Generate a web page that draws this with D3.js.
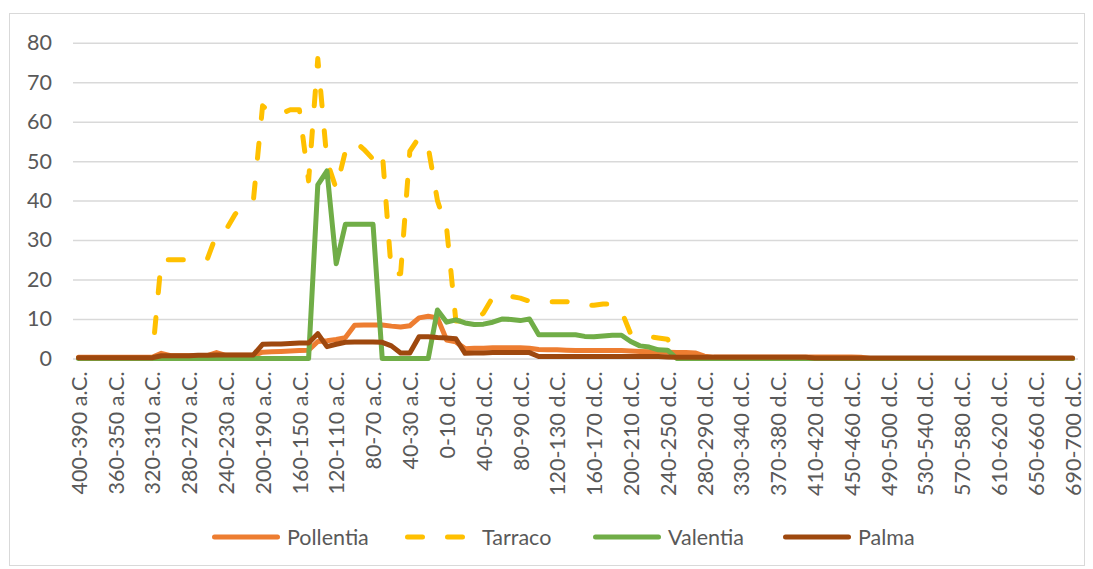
<!DOCTYPE html>
<html>
<head>
<meta charset="utf-8">
<script src="https://cdn.jsdelivr.net/npm/d3@7"></script>
<style>
    body { margin: 0; background: #fff; }
    text { font-family: Lato, "Open Sans", sans-serif; }
</style>
</head>
<body>
<div id="chart"></div>
<script>
// categories (one interval is missing in the source between 280-290 and 330-340 d.C.)
var categories = [
    "400-390 a.C.", "390-380 a.C.", "380-370 a.C.", "370-360 a.C.", "360-350 a.C.", "350-340 a.C.", "340-330 a.C.", "330-320 a.C.", "320-310 a.C.", "310-300 a.C.",
    "300-290 a.C.", "290-280 a.C.", "280-270 a.C.", "270-260 a.C.", "260-250 a.C.", "250-240 a.C.", "240-230 a.C.", "230-220 a.C.", "220-210 a.C.", "210-200 a.C.",
    "200-190 a.C.", "190-180 a.C.", "180-170 a.C.", "170-160 a.C.", "160-150 a.C.", "150-140 a.C.", "140-130 a.C.", "130-120 a.C.", "120-110 a.C.", "110-100 a.C.",
    "100-90 a.C.", "90-80 a.C.", "80-70 a.C.", "70-60 a.C.", "60-50 a.C.", "50-40 a.C.", "40-30 a.C.", "30-20 a.C.", "20-10 a.C.", "10-0 a.C.",
    "0-10 d.C.", "10-20 d.C.", "20-30 d.C.", "30-40 d.C.", "40-50 d.C.", "50-60 d.C.", "60-70 d.C.", "70-80 d.C.", "80-90 d.C.", "90-100 d.C.",
    "100-110 d.C.", "110-120 d.C.", "120-130 d.C.", "130-140 d.C.", "140-150 d.C.", "150-160 d.C.", "160-170 d.C.", "170-180 d.C.", "180-190 d.C.", "190-200 d.C.",
    "200-210 d.C.", "210-220 d.C.", "220-230 d.C.", "230-240 d.C.", "240-250 d.C.", "250-260 d.C.", "260-270 d.C.", "270-280 d.C.", "280-290 d.C.", "300-310 d.C.",
    "310-320 d.C.", "320-330 d.C.", "330-340 d.C.", "340-350 d.C.", "350-360 d.C.", "360-370 d.C.", "370-380 d.C.", "380-390 d.C.", "390-400 d.C.", "400-410 d.C.",
    "410-420 d.C.", "420-430 d.C.", "430-440 d.C.", "440-450 d.C.", "450-460 d.C.", "460-470 d.C.", "470-480 d.C.", "480-490 d.C.", "490-500 d.C.", "500-510 d.C.",
    "510-520 d.C.", "520-530 d.C.", "530-540 d.C.", "540-550 d.C.", "550-560 d.C.", "560-570 d.C.", "570-580 d.C.", "580-590 d.C.", "590-600 d.C.", "600-610 d.C.",
    "610-620 d.C.", "620-630 d.C.", "630-640 d.C.", "640-650 d.C.", "650-660 d.C.", "660-670 d.C.", "670-680 d.C.", "680-690 d.C.", "690-700 d.C."
];

var pollentia = [
    0.3, 0.3, 0.3, 0.3, 0.3, 0.3, 0.3, 0.3, 0.3, 1.3,
    0.7, 0.7, 0.7, 0.7, 0.7, 1.5, 0.8, 0.8, 0.8, 0.8,
    1.6, 1.7, 1.8, 1.9, 2.0, 2.1, 4.3, 4.5, 4.8, 5.3,
    8.4, 8.5, 8.5, 8.5, 8.2, 8.0, 8.3, 10.3, 10.7, 10.3,
    4.7, 4.2, 2.5, 2.6, 2.6, 2.7, 2.7, 2.7, 2.7, 2.6,
    2.3, 2.2, 2.2, 2.1, 2.0, 2.0, 2.0, 2.0, 2.0, 2.0,
    1.9, 1.8, 1.7, 1.7, 1.6, 1.5, 1.5, 1.4, 0.6, 0.35,
    0.35, 0.35, 0.35, 0.35, 0.35, 0.35, 0.35, 0.35, 0.35, 0.35,
    0.35, 0.35, 0.35, 0.35, 0.35, 0.3, 0, 0, 0, 0,
    0, 0, 0, 0, 0, 0, 0, 0, 0, 0,
    0, 0, 0, 0, 0, 0, 0, 0, 0
];

var tarraco = [
    0, 0, 0, 0, 0, 0, 0, 0, 0, 25,
    25, 25, 25, 25, 25.2, 31.5, 32.5, 36.5, 39, 40,
    64, 62, 62, 63, 63, 45, 76, 50, 43, 52.5,
    55, 53, 50.5, 52.5, 21.5, 21.5, 52.5, 56, 53.5, 40,
    33, 9.5, 9.5, 9.5, 11.5, 15.5, 16, 15.7, 15.3, 14.5,
    14.4, 14.4, 14.4, 14.4, 14, 13.4, 13.5, 13.8, 13.8, 12,
    6.2, 5.7, 5.5, 5.2, 4.9, 0, 0, 0, 0, 0,
    0, 0, 0, 0, 0, 0, 0, 0, 0, 0,
    0, 0, 0, 0, 0, 0, 0, 0, 0, 0,
    0, 0, 0, 0, 0, 0, 0, 0, 0, 0,
    0, 0, 0, 0, 0, 0, 0, 0, 0
];

var valentia = [
    0, 0, 0, 0, 0, 0, 0, 0, 0, 0,
    0, 0, 0, 0, 0, 0, 0, 0, 0, 0,
    0, 0, 0, 0, 0, 0, 44, 47.5, 24, 34,
    34, 34, 34, 0, 0, 0, 0, 0, 0, 12.3,
    9.2, 9.8, 9, 8.6, 8.7, 9.2, 10, 9.9, 9.6, 10,
    6, 6, 6, 6, 6, 5.6, 5.5, 5.7, 5.9, 5.9,
    4.3, 3.2, 2.9, 2.2, 2.1, 0, 0, 0, 0, 0,
    0, 0, 0, 0, 0, 0, 0, 0, 0, 0,
    0, 0, 0, 0, 0, 0, 0, 0, 0, 0,
    0, 0, 0, 0, 0, 0, 0, 0, 0, 0,
    0, 0, 0, 0, 0, 0, 0, 0, 0
];

var palma = [
    0.2, 0.2, 0.2, 0.2, 0.2, 0.2, 0.2, 0.2, 0.2, 0.7,
    0.7, 0.7, 0.7, 0.8, 0.8, 0.9, 0.9, 0.9, 0.9, 0.9,
    3.6, 3.7, 3.7, 3.8, 3.9, 3.9, 6.3, 3.0, 3.6, 4.1,
    4.2, 4.2, 4.2, 4.1, 3.2, 1.4, 1.4, 5.5, 5.5, 5.3,
    5.2, 5.0, 1.3, 1.4, 1.4, 1.5, 1.5, 1.5, 1.5, 1.5,
    0.5, 0.5, 0.5, 0.5, 0.5, 0.5, 0.5, 0.5, 0.5, 0.5,
    0.5, 0.5, 0.5, 0.5, 0.4, 0.3, 0.3, 0.3, 0.3, 0.3,
    0.3, 0.3, 0.3, 0.3, 0.3, 0.3, 0.3, 0.3, 0.3, 0.3,
    0.1, 0.1, 0.1, 0.1, 0.1, 0.1, 0.1, 0.1, 0.1, 0.1,
    0.1, 0.1, 0.1, 0.1, 0.1, 0.1, 0.1, 0.1, 0.1, 0.1,
    0.1, 0.1, 0.1, 0.1, 0.1, 0.1, 0.1, 0.1, 0.1
];

var seriesNames = ["Pollentia", "Tarraco", "Valentia", "Palma"];
var yTicks = [0, 10, 20, 30, 40, 50, 60, 70, 80];

(function () {
    var width = 1093,
        height = 569;

    var colors = ["#ED7D31", "#FFC000", "#70AD47", "#9E480E"];
    var dashes = [null, "15,25", null, null];
    var series = [pollentia, tarraco, valentia, palma];

    var svg = d3.select("#chart").append("svg")
        .attr("width", width)
        .attr("height", height);

    // chart frame
    svg.append("rect")
        .attr("x", 9.5).attr("y", 13.5)
        .attr("width", 1075).attr("height", 552)
        .attr("fill", "#fff")
        .attr("stroke", "#d9d9d9")
        .attr("stroke-width", 1);

    var x = d3.scalePoint().domain(categories).range([78.5, 1072.5]);
    var y = d3.scaleLinear().domain([0, 80]).range([358.5, 42.7]);

    // gridlines + y labels
    var yAxis = svg.append("g")
        .attr("transform", "translate(73,0)")
        .call(d3.axisLeft(y).tickValues(yTicks).tickSize(-1005).tickPadding(21));
    yAxis.select(".domain").remove();
    yAxis.selectAll("line")
        .attr("stroke", "#d9d9d9")
        .attr("stroke-width", 1.5);
    yAxis.selectAll("text")
        .attr("fill", "#595959")
        .style("font-size", "21.5px");

    // category labels, every 4th
    var xAxis = svg.append("g")
        .attr("transform", "translate(0," + y(0) + ")")
        .call(d3.axisBottom(x).tickValues(categories.filter(function (d, i) { return i % 4 === 0; })).tickSize(0));
    xAxis.select(".domain").remove();
    xAxis.selectAll("text")
        .attr("transform", "rotate(-90)")
        .attr("text-anchor", "end")
        .attr("x", -13)
        .attr("y", 0)
        .attr("dy", "0.36em")
        .attr("fill", "#595959")
        .style("font-size", "21.5px");

    var line = d3.line()
        .x(function (d, i) { return x(categories[i]); })
        .y(function (d) { return y(d); });

    // shift the dash pattern so a dash sits on the Tarraco peak
    var peak = d3.maxIndex(tarraco);
    var lenToPeak = 0;
    for (var i = 1; i <= peak; i++) {
        lenToPeak += Math.hypot(x(categories[i]) - x(categories[i - 1]), y(tarraco[i]) - y(tarraco[i - 1]));
    }
    var tarracoOffset = 7.5 - (lenToPeak % 40);

    svg.selectAll(".series")
        .data(series)
        .enter().append("path")
        .attr("class", "series")
        .attr("d", line)
        .attr("fill", "none")
        .attr("stroke", function (d, i) { return colors[i]; })
        .attr("stroke-width", 5)
        .attr("stroke-linejoin", "round")
        .attr("stroke-linecap", "round")
        .attr("stroke-dasharray", function (d, i) { return dashes[i]; })
        .attr("stroke-dashoffset", function (d, i) { return i === 1 ? tarracoOffset : null; });

    // legend
    var legendX = [212, 405, 593, 783];
    var legend = svg.selectAll(".legend")
        .data(seriesNames)
        .enter().append("g")
        .attr("class", "legend")
        .attr("transform", function (d, i) { return "translate(" + legendX[i] + ",537)"; });

    legend.append("line")
        .attr("x1", 2.5).attr("x2", 65.5)
        .attr("stroke", function (d, i) { return colors[i]; })
        .attr("stroke-width", 5)
        .attr("stroke-linecap", "round")
        .attr("stroke-dasharray", function (d, i) { return dashes[i]; });

    legend.append("text")
        .attr("x", function (d, i) { return i === 1 ? 77 : 75; })
        .attr("dy", "0.35em")
        .attr("fill", "#595959")
        .style("font-size", "21.5px")
        .text(function (d) { return d; });
})();
</script>
</body>
</html>
